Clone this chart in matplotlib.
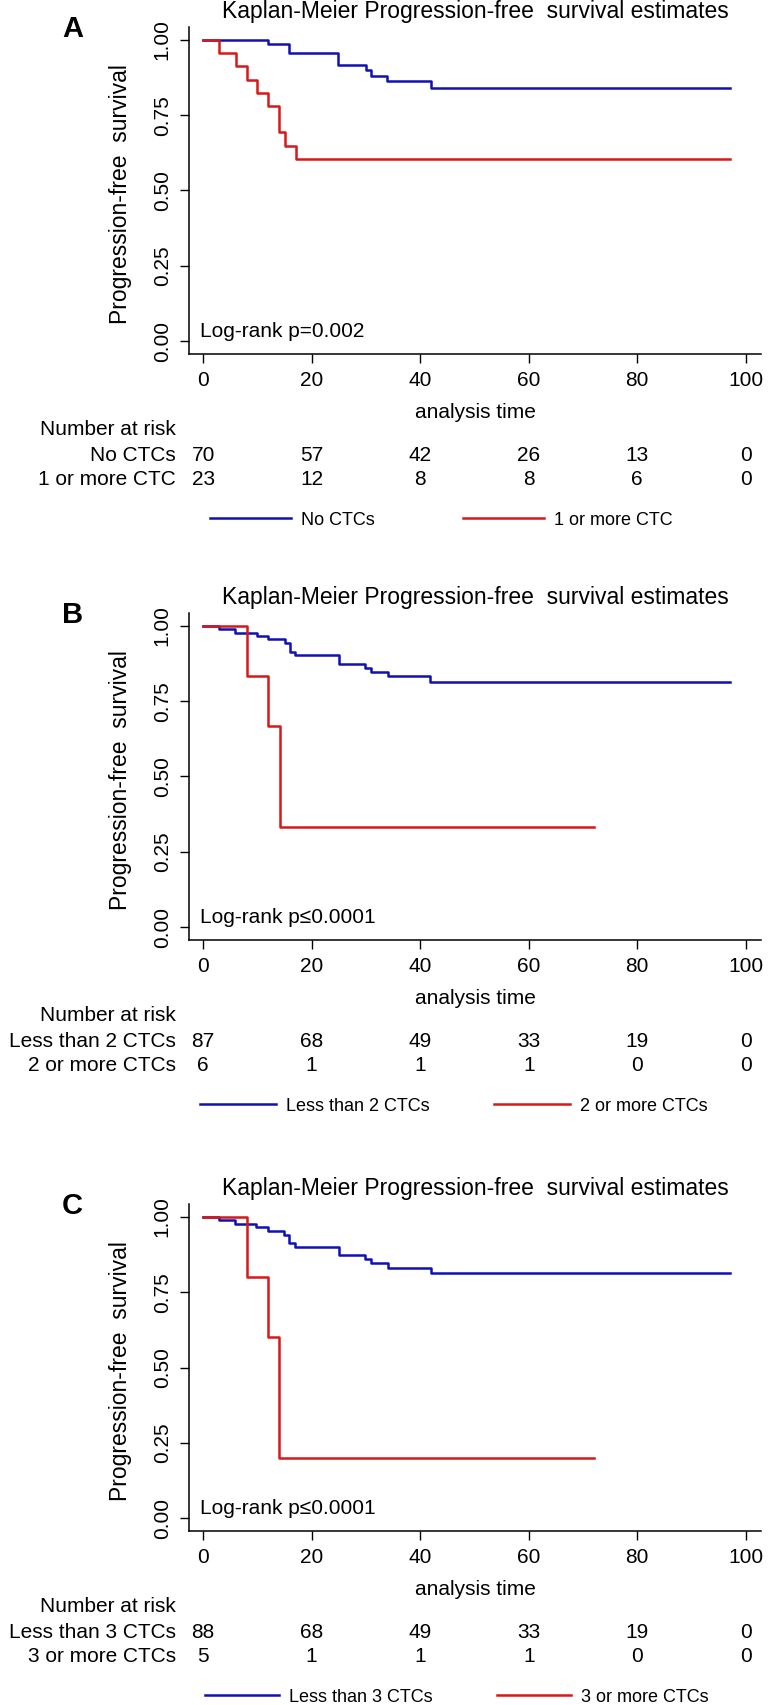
import numpy as np
import matplotlib.pyplot as plt
import matplotlib.transforms as mtransforms

plt.rcParams['font.family'] = ['Liberation Sans', 'DejaVu Sans']

# follow-up times where the number at risk is reported
risk_times = [0, 20, 40, 60, 80, 100]

# Panel A: no CTCs vs 1 or more CTC
a_time_blue = [0, 11.9, 15.9, 24.9, 30.0, 31.0, 33.8, 42.0, 97]
a_surv_blue = [1.0, 0.985, 0.955, 0.918, 0.901, 0.881, 0.864, 0.842, 0.842]
a_time_red = [0, 2.9, 6.0, 8.1, 10.0, 11.9, 13.9, 15.1, 17.1, 97]
a_surv_red = [1.0, 0.957, 0.913, 0.868, 0.823, 0.780, 0.694, 0.649, 0.603, 0.603]
a_groups = ['No CTCs', '1 or more CTC']
a_risk_blue = [70, 57, 42, 26, 13, 0]
a_risk_red = [23, 12, 8, 8, 6, 0]

# Panel B: less than 2 CTCs vs 2 or more
b_time_blue = [0, 2.9, 5.9, 9.9, 12.0, 15.0, 16.1, 17.0, 25.0, 29.9, 30.9, 34.0, 41.9, 97]
b_surv_blue = [1.0, 0.991, 0.977, 0.966, 0.955, 0.942, 0.915, 0.903, 0.875, 0.861, 0.848, 0.834, 0.815, 0.815]
b_time_red = [0, 8.0, 12.0, 14.1, 72]
b_surv_red = [1.0, 0.833, 0.667, 0.333, 0.333]
b_groups = ['Less than 2 CTCs', '2 or more CTCs']
b_risk_blue = [87, 68, 49, 33, 19, 0]
b_risk_red = [6, 1, 1, 1, 0, 0]

# Panel C: less than 3 CTCs vs 3 or more
c_time_blue = [0, 2.9, 5.9, 9.8, 12.0, 14.9, 15.9, 17.0, 25.0, 29.9, 30.9, 34.0, 42.0, 97]
c_surv_blue = [1.0, 0.991, 0.978, 0.965, 0.954, 0.940, 0.914, 0.901, 0.873, 0.861, 0.847, 0.832, 0.814, 0.814]
c_time_red = [0, 8.0, 12.0, 14.0, 72]
c_surv_red = [1.0, 0.8, 0.6, 0.2, 0.2]
c_groups = ['Less than 3 CTCs', '3 or more CTCs']
c_risk_blue = [88, 68, 49, 33, 19, 0]
c_risk_red = [5, 1, 1, 1, 0, 0]

pvalues = ['Log-rank p=0.002', 'Log-rank p\u22640.0001', 'Log-rank p\u22640.0001']
letters = ['A', 'B', 'C']

BLUE = '#1010b4'
RED = '#d81818'

W, H = 774, 1705


def draw_panel(fig, top_px, letter, t_blue, s_blue, t_red, s_red, groups,
               risk_blue, risk_red, pval, leg_x, leg_spacing, leg_handle):
    # axes box in pixels
    left, right = 189, 761
    top, bottom = top_px + 27, top_px + 354
    ax = fig.add_axes([left / W, 1 - bottom / H, (right - left) / W, (bottom - top) / H])

    l1, = ax.step(t_blue, s_blue, where='post', color=BLUE, lw=1.8)
    l2, = ax.step(t_red, s_red, where='post', color=RED, lw=1.8)

    ax.set_xlim(-2.6, 102.8)
    ax.set_ylim(-0.043, 1.043)
    ax.set_xticks(risk_times)
    ax.set_yticks([0, 0.25, 0.5, 0.75, 1.0])
    ax.set_yticklabels(['0.00', '0.25', '0.50', '0.75', '1.00'])
    ax.tick_params(axis='both', direction='out', length=6.5, width=1, labelsize=15)
    ax.tick_params(axis='x', pad=6)
    ax.tick_params(axis='y', pad=6)
    for lab in ax.get_yticklabels():
        lab.set_rotation(90)
        lab.set_va('center')
    for s in ['top', 'right']:
        ax.spines[s].set_visible(False)
    for s in ['left', 'bottom']:
        ax.spines[s].set_linewidth(1.1)

    ax.set_xlabel('analysis time', fontsize=15, labelpad=9)
    ax.text(-0.12, 0.49, 'Progression-free  survival', transform=ax.transAxes,
            rotation=90, ha='center', va='center', fontsize=16.5)
    ax.text(0.5, 1.046, 'Kaplan-Meier Progression-free  survival estimates',
            transform=ax.transAxes, ha='center', va='center', fontsize=16.5)
    ax.text(-0.204, 0.995, letter, transform=ax.transAxes, ha='center', va='center',
            fontsize=21, fontweight='bold')
    ax.text(0.019, 0.07, pval, transform=ax.transAxes, ha='left', va='center', fontsize=15)

    # number at risk table
    trans = mtransforms.blended_transform_factory(ax.transData, ax.transAxes)
    ax.text(-0.023, -0.232, 'Number at risk', transform=ax.transAxes,
            ha='right', va='center', fontsize=15, clip_on=False)
    rows = [(groups[0], risk_blue, -0.309), (groups[1], risk_red, -0.384)]
    for name, counts, yy in rows:
        ax.text(-0.023, yy, name, transform=ax.transAxes, ha='right', va='center',
                fontsize=15, clip_on=False)
        for t, n in zip(risk_times, counts):
            ax.text(t, yy, str(n), transform=trans, ha='center', va='center',
                    fontsize=15, clip_on=False)

    ax.legend([l1, l2], groups, loc='center', bbox_to_anchor=(leg_x, -0.508),
              ncol=2, frameon=False, fontsize=13, handlelength=leg_handle,
              handletextpad=0.55, columnspacing=leg_spacing)
    return ax


fig = plt.figure(figsize=(W / 100, H / 100), dpi=100)

draw_panel(fig, 0, letters[0], a_time_blue, a_surv_blue, a_time_red, a_surv_red,
           a_groups, a_risk_blue, a_risk_red, pvalues[0], 0.441, 4.9, 4.5)
draw_panel(fig, 586, letters[1], b_time_blue, b_surv_blue, b_time_red, b_surv_red,
           b_groups, b_risk_blue, b_risk_red, pvalues[1], 0.463, 3.6, 4.2)
draw_panel(fig, 1177, letters[2], c_time_blue, c_surv_blue, c_time_red, c_surv_red,
           c_groups, c_risk_blue, c_risk_red, pvalues[2], 0.468, 3.6, 4.1)

fig.savefig('out.png', dpi=100)
plt.close(fig)
